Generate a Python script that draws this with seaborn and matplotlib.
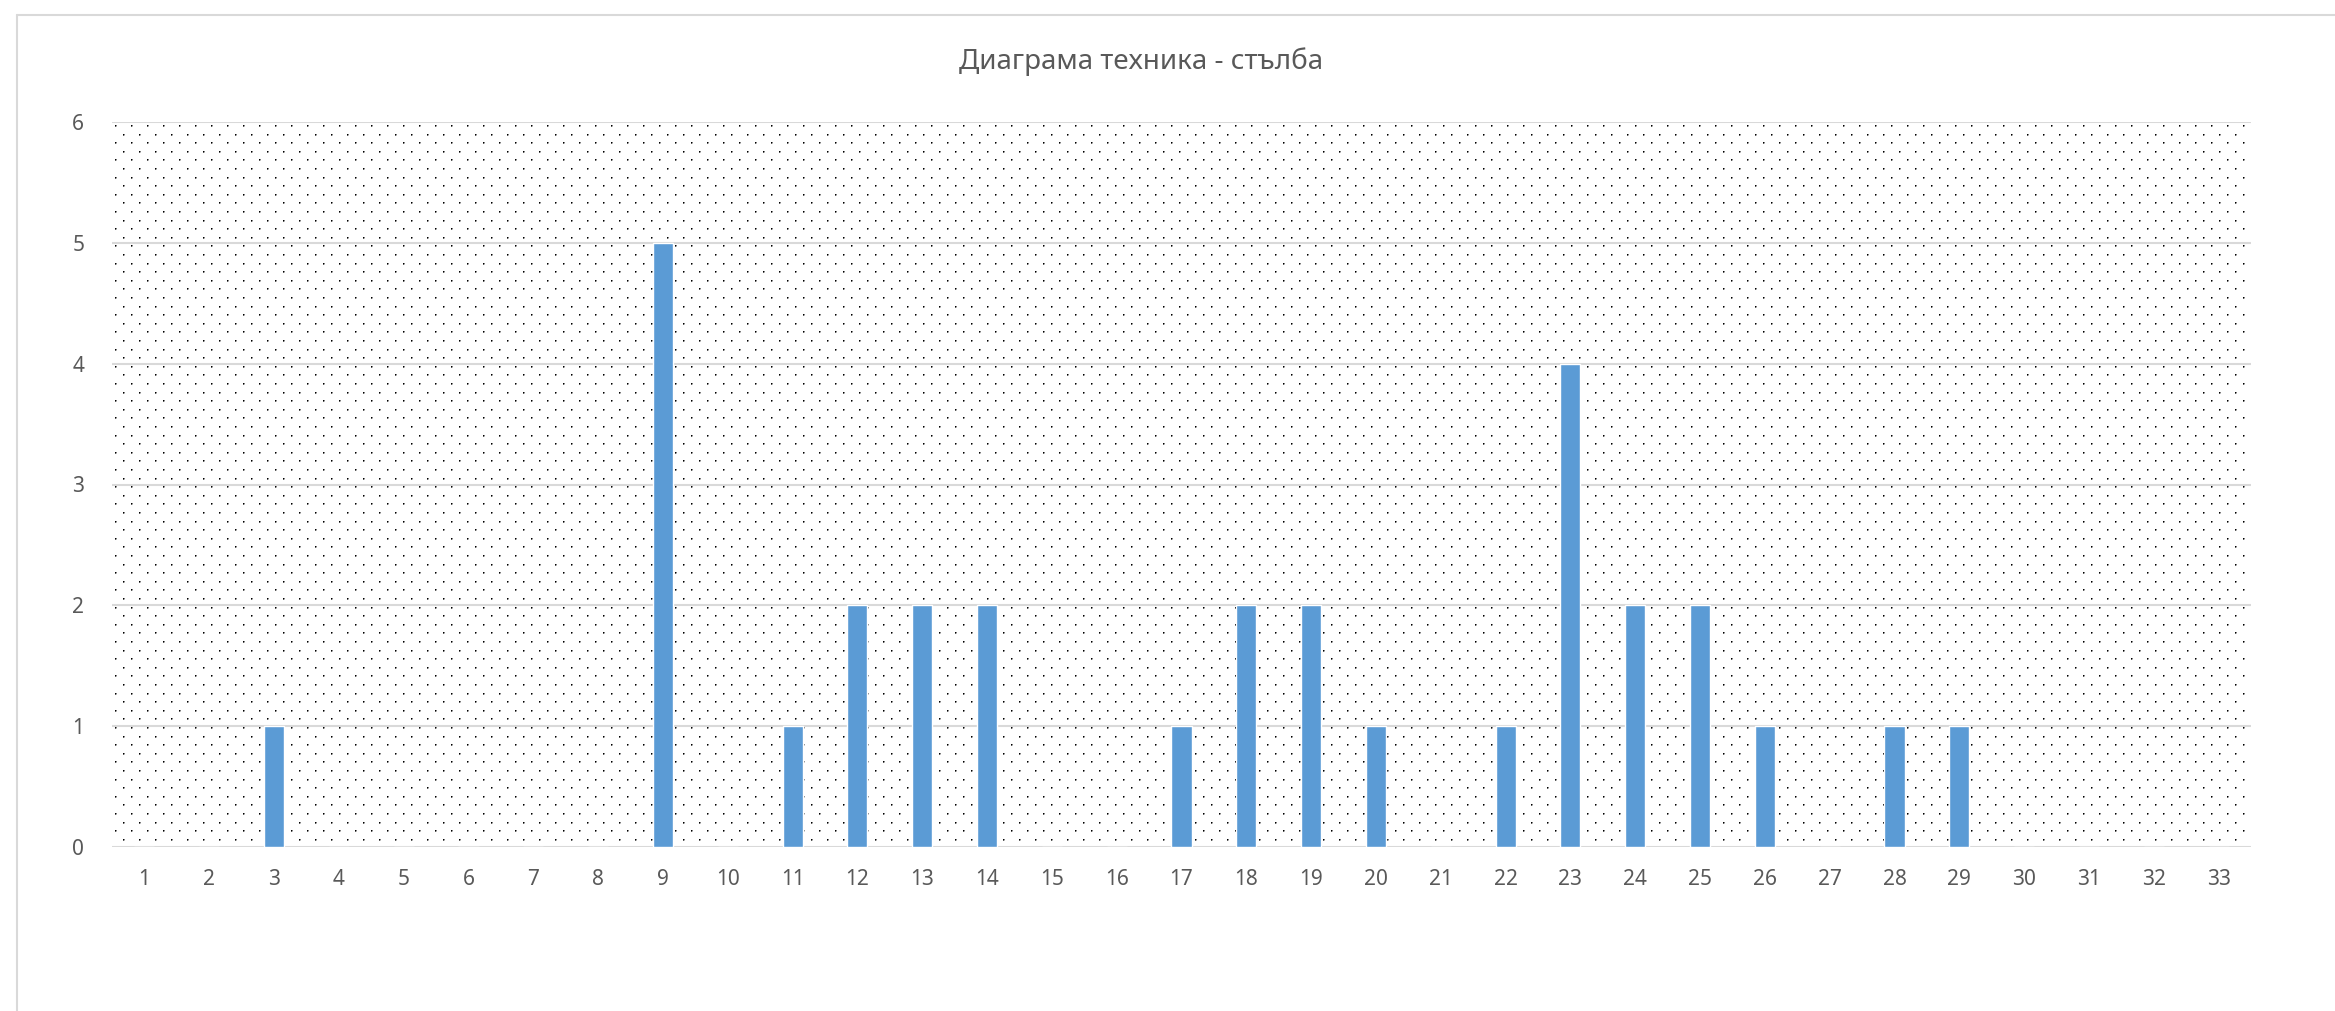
import numpy as np
import matplotlib
matplotlib.use('AGG')
import matplotlib.pyplot as plt
from matplotlib.lines import Line2D
import seaborn as sns

# ------------------------------------------------------------------ data
categories = [str(i) for i in range(1, 34)]
values = [0, 0, 1, 0, 0, 0, 0, 0, 5, 0,
          1, 2, 2, 2, 0, 0, 1, 2, 2, 1,
          0, 1, 4, 2, 2, 1, 0, 1, 1, 0,
          0, 0, 0]
y_ticks = [0, 1, 2, 3, 4, 5, 6]
title = "Диаграма техника - стълба"

BAR_COLOR = "#5B9BD5"
TEXT_COLOR = "#595959"
GRID_COLOR = "#D9D9D9"

W_PX, H_PX = 2335, 1011
AX_L, AX_R, AX_T, AX_B = 112, 2251, 122, 847


def dot_texture(h, w, dx=16, dy=8.6, x0=3, y0=3):
    """Staggered dot fill like the Excel 'dotted' plot area pattern"""
    tex = np.zeros((h, w, 4), dtype=np.uint8)
    k = 0
    y = y0
    while y < h - 2:
        yi = int(round(y))
        xs = np.arange(x0 + (dx // 2 if k % 2 else 0), w - 1, dx)
        tex[yi, xs] = [0, 0, 0, 255]
        tex[yi, xs + 1] = [60, 60, 60, 170]
        tex[yi + 1, xs] = [70, 70, 70, 230]
        tex[yi + 1, xs + 1] = [120, 120, 120, 110]
        k += 1
        y += dy
    return tex


sns.set_theme(style="white")
plt.rcParams['font.family'] = ['Noto Sans', 'DejaVu Sans']

fig = plt.figure(figsize=(W_PX / 100, H_PX / 100), dpi=100)
ax = fig.add_axes([AX_L / W_PX, (H_PX - AX_B) / H_PX,
                   (AX_R - AX_L) / W_PX, (AX_B - AX_T) / H_PX])

sns.barplot(x=categories, y=values, color=BAR_COLOR, saturation=1,
            width=0.31, ax=ax, zorder=2)

# dotted background fill
tex = dot_texture(AX_B - AX_T, AX_R - AX_L)
ax.imshow(tex, extent=[0, 1, 0, 1], transform=ax.transAxes, aspect='auto',
          interpolation='none', zorder=0)

ax.set_xlim(-0.5, len(categories) - 0.5)
ax.set_ylim(0, 6)
ax.set_yticks(y_ticks)
ax.set_xlabel("")
ax.set_ylabel("")

# gridlines
ax.set_axisbelow(True)
ax.yaxis.grid(True, color=GRID_COLOR, lw=1.5, zorder=1)
ax.xaxis.grid(False)
for s in ax.spines.values():
    s.set_visible(False)
ax.tick_params(axis='both', length=0, labelsize=15, labelcolor=TEXT_COLOR)
ax.tick_params(axis='x', pad=16)
ax.tick_params(axis='y', pad=20)

fig.text(1141 / W_PX, 1 - 62 / H_PX, title, ha='center', va='center',
         fontsize=20, color=TEXT_COLOR)

# chart area border (only top and left visible)
fig.add_artist(Line2D([17 / W_PX, 1.0], [1 - 15 / H_PX, 1 - 15 / H_PX],
                      color=GRID_COLOR, lw=1.5))
fig.add_artist(Line2D([17 / W_PX, 17 / W_PX], [0.0, 1 - 15 / H_PX],
                      color=GRID_COLOR, lw=1.5))

fig.savefig("out.png", dpi=100)
plt.close()
